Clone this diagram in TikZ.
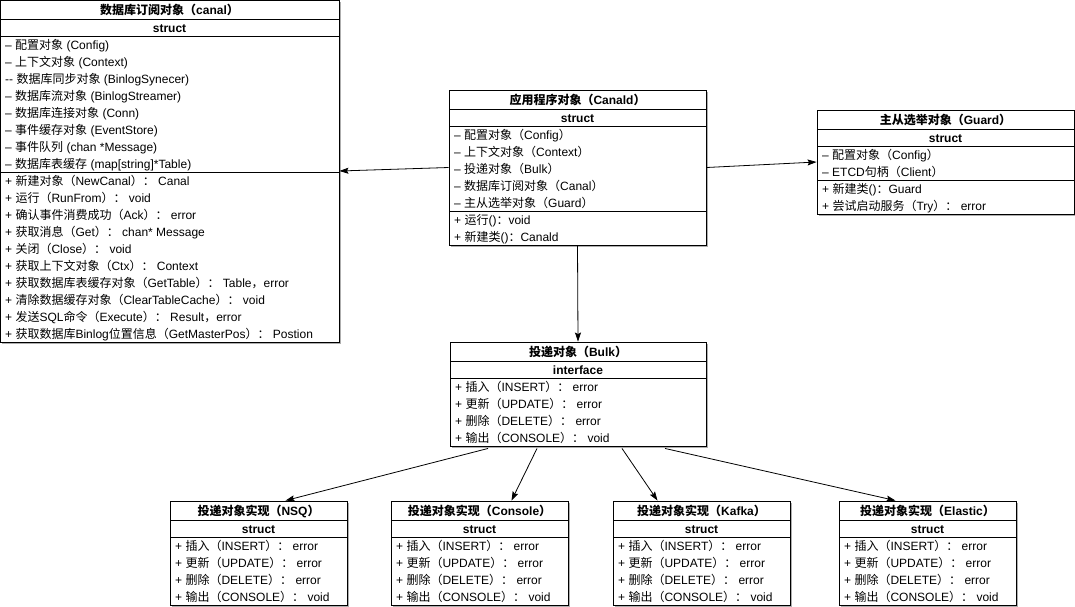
\documentclass[tikz,border=0pt]{standalone}
\usepackage{fontspec}
\setmainfont{Liberation Sans}
\newfontfamily\cjkfont{Noto Sans CJK SC}
\usetikzlibrary{arrows.meta,fit,shadows,calc}
\newcommand{\zh}[1]{{\cjkfont #1}}
\tikzset{
  classbox/.style={draw,line width=0.9pt,fill=white,inner sep=0pt,
    drop shadow={shadow xshift=1.6pt,shadow yshift=-1.6pt,fill=black!45,opacity=0.7}},
  sep/.style={line width=0.9pt},
  head/.style={font=\fontsize{12}{14}\selectfont\bfseries,inner sep=0pt,anchor=base},
  row/.style={font=\fontsize{12}{14}\selectfont,inner sep=0pt,anchor=base west},
  link/.style={-{Stealth[length=9pt,width=6pt,inset=1.5pt]},line width=0.8pt},
}

\begin{document}
\begin{tikzpicture}[x=1pt,y=-1pt]
  \fill[white] (0,0) rectangle (1075,606);
  \useasboundingbox (0,0) rectangle (1075,606);

  % canal, the big one on the left
  \node[classbox,fit={(0,0) (339,342)}] (canal) {};
  \draw[sep] (0,19) -- (339,19) (0,36) -- (339,36) (0,172) -- (339,172);
  \node[head] (canal-t) at (169.5,14.5) {\zh{数据库订阅对象（}canal\zh{）}};
  \node[head] (canal-s) at (169.5,32.5) {struct};
  \foreach \lab [count=\i] in {
      – \zh{配置对象} (Config),
      – \zh{上下文对象} (Context),
      -{}- \zh{数据库同步对象} (BinlogSynecer),
      – \zh{数据库流对象} (BinlogStreamer),
      – \zh{数据库连接对象} (Conn),
      – \zh{事件缓存对象} (EventStore),
      – \zh{事件队列} (chan *Message),
      – \zh{数据库表缓存} (map[string]*Table)}
     { \node[row] (canal-f\i) at (5,{32.5+17*\i}) {\lab}; }
  \foreach \lab [count=\j] in {
      + \zh{新建对象（}NewCanal\zh{）：} Canal,
      + \zh{运行（}RunFrom\zh{）：} void,
      + \zh{确认事件消费成功（}Ack\zh{）：} error,
      + \zh{获取消息（}Get\zh{）：} chan* Message,
      + \zh{关闭（}Close\zh{）：} void,
      + \zh{获取上下文对象（}Ctx\zh{）：} Context,
      + \zh{获取数据库表缓存对象（}GetTable\zh{）：} Table\zh{，}error,
      + \zh{清除数据缓存对象（}ClearTableCache\zh{）：} void,
      + \zh{发送}SQL\zh{命令（}Execute\zh{）：} Result\zh{，}error,
      + \zh{获取数据库}Binlog\zh{位置信息（}GetMasterPos\zh{）：} Postion}
     { \node[row] (canal-m\j) at (5,{168.5+17*\j}) {\lab}; }

  % canald in the middle
  \node[classbox,fit={(449,90) (706,245)}] (canald) {};
  \draw[sep] (449,109) -- (706,109) (449,126) -- (706,126) (449,211) -- (706,211);
  \node[head] (canald-t) at (577.5,104.5) {\zh{应用程序对象（}Canald\zh{）}};
  \node[head] (canald-s) at (577.5,122.5) {struct};
  \foreach \lab [count=\i] in {
      – \zh{配置对象（}Config\zh{）},
      – \zh{上下文对象（}Context\zh{）},
      – \zh{投递对象（}Bulk\zh{）},
      – \zh{数据库订阅对象（}Canal\zh{）},
      – \zh{主从选举对象（}Guard\zh{）}}
     { \node[row] (canald-f\i) at (454,{122.5+17*\i}) {\lab}; }
  \foreach \lab [count=\j] in {
      + \zh{运行}()\zh{：}void,
      + \zh{新建类}()\zh{：}Canald}
     { \node[row] (canald-m\j) at (454,{207.5+17*\j}) {\lab}; }

  % guard on the right
  \node[classbox,fit={(817,110) (1074,214)}] (guard) {};
  \draw[sep] (817,129) -- (1074,129) (817,146) -- (1074,146) (817,180) -- (1074,180);
  \node[head] (guard-t) at (945.5,124.5) {\zh{主从选举对象（}Guard\zh{）}};
  \node[head] (guard-s) at (945.5,142.5) {struct};
  \foreach \lab [count=\i] in {
      – \zh{配置对象（}Config\zh{）},
      – ETCD\zh{句柄（}Client\zh{）}}
     { \node[row] (guard-f\i) at (822,{142.5+17*\i}) {\lab}; }
  \foreach \lab [count=\j] in {
      + \zh{新建类}()\zh{：}Guard,
      + \zh{尝试启动服务（}Try\zh{）：} error}
     { \node[row] (guard-m\j) at (822,{176.5+17*\j}) {\lab}; }

  % bulk, the interface
  \node[classbox,fit={(450,342) (706,446)}] (bulk) {};
  \draw[sep] (450,361) -- (706,361) (450,378) -- (706,378);
  \node[head] (bulk-t) at (578,356.5) {\zh{投递对象（}Bulk\zh{）}};
  \node[head] (bulk-s) at (578,374.5) {interface};
  \foreach \lab [count=\j] in {
      + \zh{插入（}INSERT\zh{）：} error,
      + \zh{更新（}UPDATE\zh{）：} error,
      + \zh{删除（}DELETE\zh{）：} error,
      + \zh{输出（}CONSOLE\zh{）：} void}
     { \node[row] (bulk-m\j) at (455,{374.5+17*\j}) {\lab}; }

  % the four implementations, same layout each
  \foreach \nm/\x/\lab in {nsq/170/NSQ, console/391/Console,
                          kafka/613/Kafka, elastic/839/Elastic}
  {
    \node[classbox,fit={(\x,501) ({\x+177},605)}] (\nm) {};
    \draw[sep] (\x,520) -- ({\x+177},520) (\x,537) -- ({\x+177},537);
    \node[head] (\nm-t) at ({\x+88.5},515.5) {\zh{投递对象实现（}\lab\zh{）}};
    \node[head] (\nm-s) at ({\x+88.5},533.5) {struct};
    \foreach \txt [count=\j] in {
        + \zh{插入（}INSERT\zh{）：} error,
        + \zh{更新（}UPDATE\zh{）：} error,
        + \zh{删除（}DELETE\zh{）：} error,
        + \zh{输出（}CONSOLE\zh{）：} void}
       { \node[row] (\nm-m\j) at ({\x+5},{533.5+17*\j}) {\txt}; }
  }

  \draw[link] (canald.west) -- (canal.east);
  \draw[link] (canald.east) -- (guard.west);
  \draw[link] (canald.south) -- (bulk.north);
  \draw[link] ($(bulk.south)+(-90,2)$) -- ($(nsq.north)+(27,0)$);
  \draw[link] ($(bulk.south)+(-41,2)$) -- ($(console.north)+(32,0)$);
  \draw[link] ($(bulk.south)+(44,2)$)  -- ($(kafka.north)+(-44,0)$);
  \draw[link] ($(bulk.south)+(87,2)$)  -- ($(elastic.north)+(-32,0)$);
\end{tikzpicture}
\end{document}
